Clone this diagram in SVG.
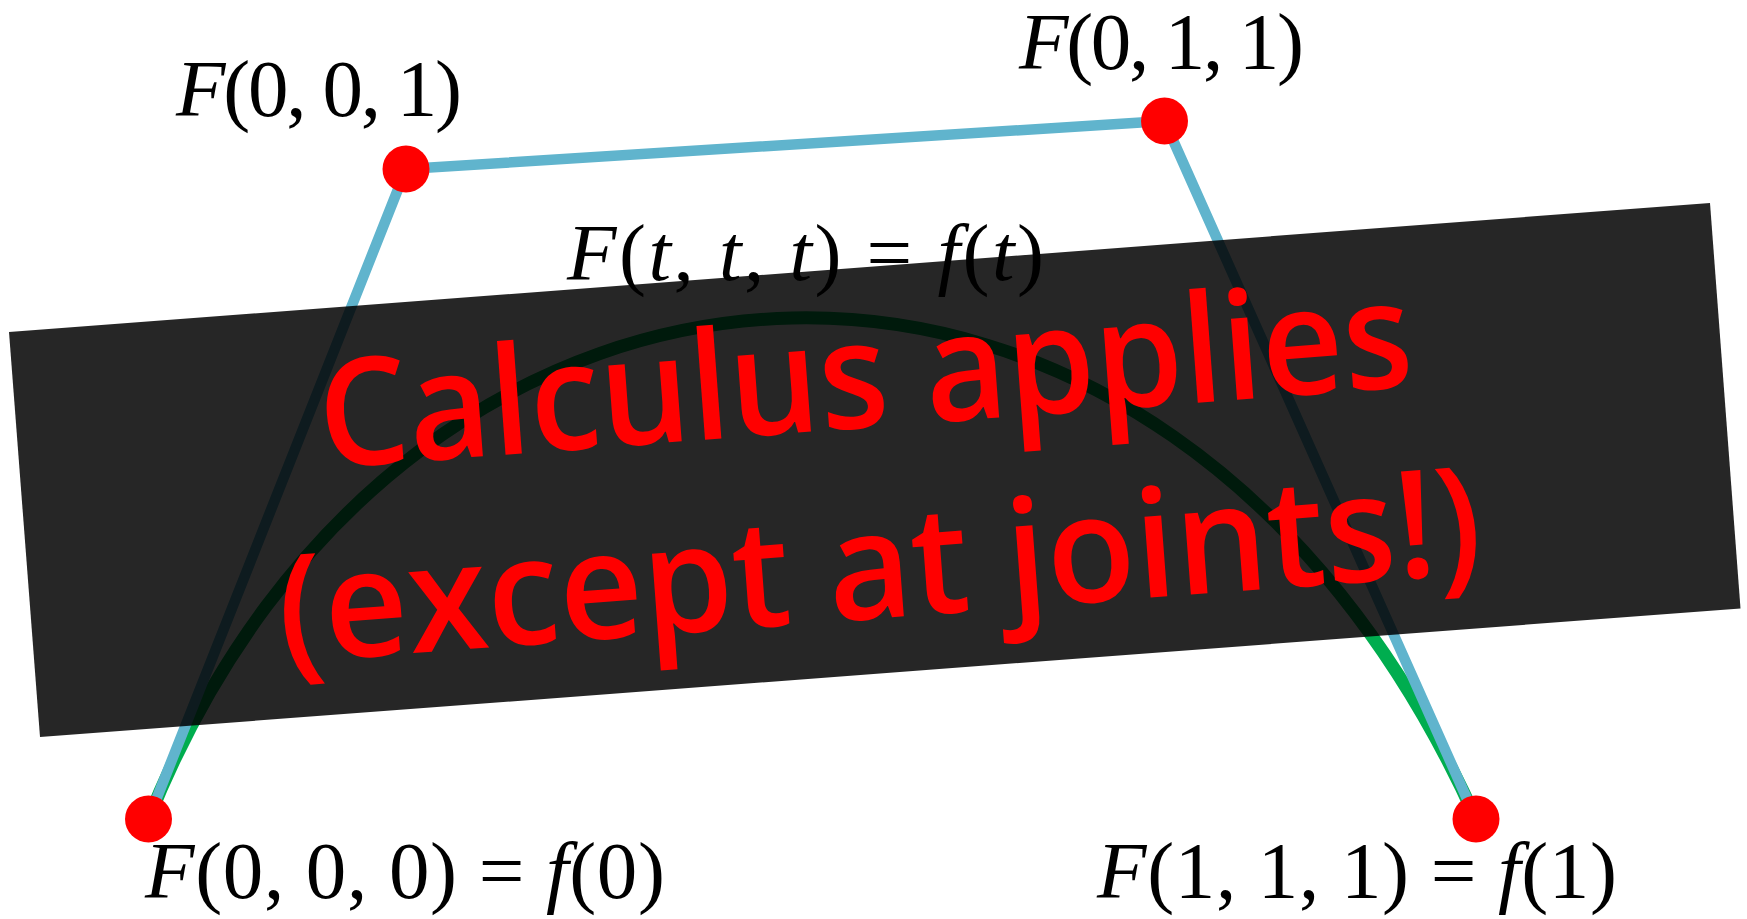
<svg xmlns="http://www.w3.org/2000/svg" width="1747" height="919" viewBox="0 0 1747 919">
<style>
.lbl{font-family:"Liberation Serif","Times New Roman",serif;font-size:81px;fill:#000}
.it{font-style:italic}
.pt{fill:#ff0000}
.poly{fill:none;stroke:#60b4cd;stroke-width:10.5}
.curve{fill:none;stroke:#00ad4f;stroke-width:13}
.big{font-family:"Open Sans","Noto Sans","DejaVu Sans",sans-serif;font-weight:600;font-size:150px;fill:#ff0000;text-anchor:middle}
</style>
<rect width="1747" height="919" fill="#ffffff"/>
<g id="connectors">
<path id="curve" class="curve" d="M148.5,819 C406,175 1164.5,127 1476,819"/>
<polyline id="control-polygon" class="poly" points="148.5,819 406,169 1164.5,121 1476,819"/>
</g>
<g id="p000">
<circle class="pt" cx="148.5" cy="819" r="23.5"/>
<text class="lbl" x="145" y="898" textLength="520" lengthAdjust="spacing"><tspan class="it">F</tspan>(0, 0, 0) = <tspan class="it">f</tspan>(0)</text>
</g>
<g id="p001">
<circle class="pt" cx="406" cy="169" r="23.5"/>
<text class="lbl" x="176" y="116" textLength="286" lengthAdjust="spacing"><tspan class="it">F</tspan>(0, 0, 1)</text>
</g>
<g id="p011">
<circle class="pt" cx="1164.5" cy="121" r="23.5"/>
<text class="lbl" x="1019" y="69" textLength="285" lengthAdjust="spacing"><tspan class="it">F</tspan>(0, 1, 1)</text>
</g>
<g id="p111">
<circle class="pt" cx="1476" cy="819" r="23.5"/>
<text class="lbl" x="1097" y="898" textLength="520" lengthAdjust="spacing"><tspan class="it">F</tspan>(1, 1, 1) = <tspan class="it">f</tspan>(1)</text>
</g>
<g id="curve-label">
<text class="lbl" x="567" y="280" textLength="477" lengthAdjust="spacing"><tspan class="it">F</tspan>(<tspan class="it">t</tspan>, <tspan class="it">t</tspan>, <tspan class="it">t</tspan>) = <tspan class="it">f</tspan>(<tspan class="it">t</tspan>)</text>
</g>
<g id="banner">
<polygon points="9,332 1710,203 1740.5,608.5 40,737" fill="#000000" fill-opacity="0.85"/>
<g transform="translate(876,522.5) rotate(-4.3)">
<text class="big" x="0" y="-95.5" textLength="1096" lengthAdjust="spacingAndGlyphs">Calculus applies</text>
<text class="big" x="0" y="95.5" textLength="1206" lengthAdjust="spacingAndGlyphs">(except at joints!)</text>
</g>
</g>
</svg>
